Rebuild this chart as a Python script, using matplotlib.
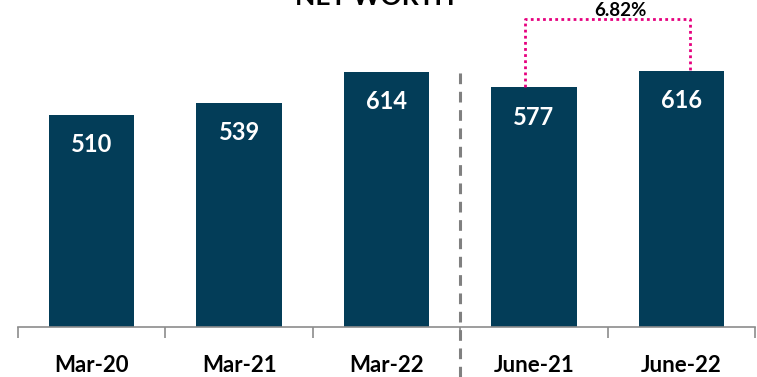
import matplotlib
matplotlib.use("Agg")
import matplotlib.pyplot as plt
import numpy as np

categories = ["Mar-20", "Mar-21", "Mar-22", "June-21", "June-22"]
net_worth = [510, 539, 614, 577, 616]
growth_label = "6.82%"
title = "NET WORTH"

bar_color = "#033d58"
accent = "#e6007e"
font = "Lato"

fig = plt.figure(figsize=(7.57, 3.77), dpi=100)
ax = fig.add_axes([18 / 757, 50 / 377, 737 / 757, 316 / 377])

x = np.arange(len(categories))
bars = ax.bar(x, net_worth, width=0.58, color=bar_color)

for xi, v in zip(x, net_worth):
    ax.annotate(str(v), (xi, v), xytext=(0, -30), textcoords="offset pixels",
                ha="center", va="center", color="white", fontsize=17,
                fontweight="bold", family=font)

ax.set_xlim(-0.5, len(categories) - 0.5)
ax.set_ylim(0, 760)

for s in ["left", "right", "top"]:
    ax.spines[s].set_visible(False)
ax.spines["bottom"].set_color("#8c8c8c")
ax.spines["bottom"].set_linewidth(1.2)
ax.set_yticks([])

ax.set_xticks(x)
ax.set_xticklabels(categories, fontsize=16, fontweight="bold", family=font)
ax.tick_params(axis="x", which="major", length=0, pad=20)
ax.set_xticks(np.arange(-0.5, len(categories), 1.0), minor=True)
ax.tick_params(axis="x", which="minor", length=8, width=1.2, color="#8c8c8c")

# separator between annual and quarterly figures
ax.plot([2.5, 2.5], [-120, 617], color="#808080", lw=2.2,
        linestyle=(0, (3.5, 2.5)), clip_on=False, zorder=3)

# growth bracket between the quarterly bars
top = 741
left, right = 3 - 0.06, 4 + 0.06
ax.plot([left, left, right, right], [net_worth[3], top, top, net_worth[4]],
        color=accent, lw=2, linestyle=(0, (1, 1.2)), clip_on=False)
ax.text(3.5 + 0.09, top + 6, growth_label, ha="center", va="baseline",
        fontsize=13.5, fontweight="bold", family=font)

fig.text(375 / 757, 1 - 5 / 377, title, ha="center", va="baseline",
         fontsize=19, fontweight="bold", family=font)

fig.savefig("out.png", dpi=100)
